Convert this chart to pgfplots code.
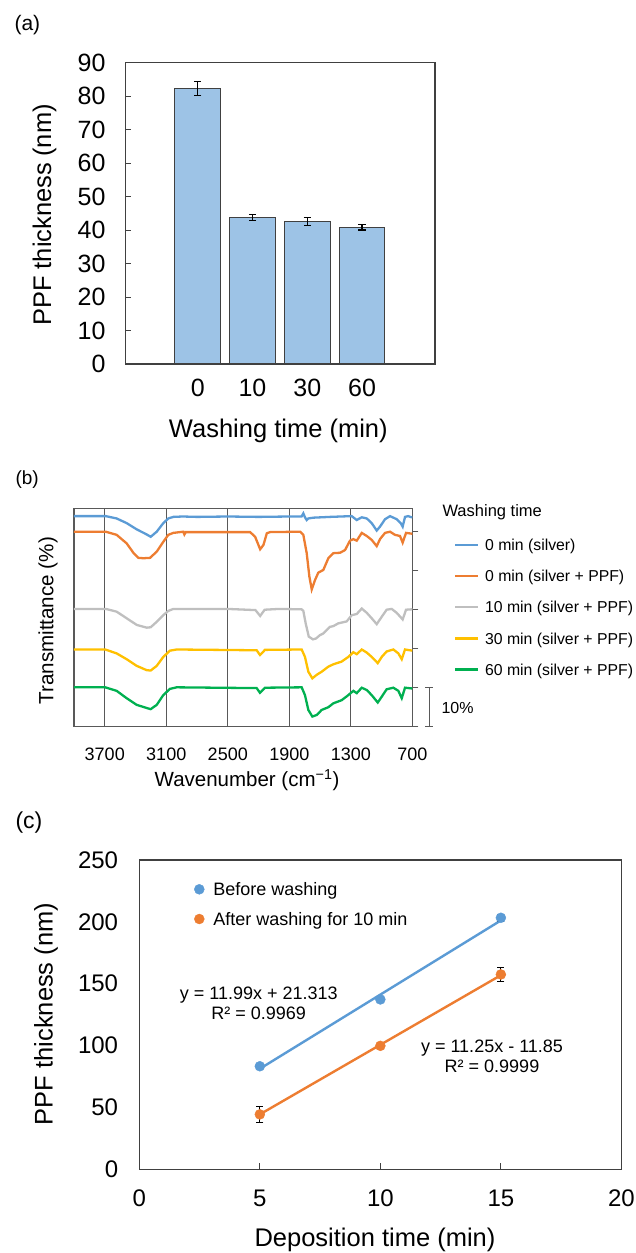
\documentclass[border=0pt]{standalone}
\usepackage{pgfplots}
\pgfplotsset{compat=1.18}
\usepackage{fontspec}
\setmainfont{Liberation Sans}
\definecolor{barblue}{HTML}{9DC3E6}
\definecolor{edge}{HTML}{404040}
\definecolor{xblue}{HTML}{5B9BD5}
\definecolor{xorange}{HTML}{ED7D31}
\definecolor{xgray}{HTML}{BFBFBF}
\definecolor{xyellow}{HTML}{FFC000}
\definecolor{xgreen}{HTML}{00B050}
\definecolor{axisgray}{HTML}{595959}
\newcommand{\fs}[1]{\fontsize{#1bp}{#1bp}\selectfont}

\pgfplotstableread{
wn v
4000 54.0
3800 54.0
3690 54.0
3584 53.4
3486 52.2
3388 50.6
3291 49.3
3252 48.7
3193 50.0
3129 52.2
3080 53.4
3031 53.8
2940 53.9
2800 53.8
2500 53.9
2200 53.8
1900 53.9
1780 53.9
1763 54.7
1745 53.6
1730 53.0
1714 53.4
1665 53.6
1503 53.8
1291 54.0
1242 53.0
1193 53.7
1144 53.4
1096 52.2
1047 50.3
1015 51.3
966 53.2
917 54.0
852 53.2
813 52.2
794 51.3
771 53.8
740 54.0
706 53.7
700 53.7
}\blue

\pgfplotstableread{
wn v
4000 50.0
3690 50.0
3584 49.2
3486 47.0
3421 44.6
3372 43.3
3323 43.2
3258 43.3
3193 44.9
3129 47.4
3080 49.2
3031 49.7
2933 50.0
2923 49.3
2910 49.9
2770 49.9
2282 49.9
2233 48.7
2184 45.5
2152 46.6
2119 49.6
2087 49.9
1794 50.0
1763 49.2
1730 44.5
1704 38.5
1681 35.2
1649 37.6
1617 39.5
1568 40.2
1519 43.2
1470 44.5
1405 44.6
1356 45.3
1308 47.7
1275 48.1
1242 47.7
1193 49.7
1144 48.9
1096 47.9
1047 46.3
1015 48.1
966 49.7
917 50.0
869 49.2
820 48.9
794 47.2
761 49.7
706 49.5
700 49.5
}\orange

\pgfplotstableread{
wn v
4000 30.2
3690 30.2
3584 29.5
3486 27.8
3388 26.1
3291 25.4
3252 25.5
3193 26.9
3129 28.6
3080 29.7
3031 30.2
2500 30.2
2230 29.9
2184 28.4
2140 30.0
2000 30.2
1780 30.1
1763 29.7
1740 26.5
1710 23.1
1670 22.4
1640 22.6
1600 23.5
1568 23.9
1503 25.6
1470 25.8
1422 26.5
1340 27.0
1291 28.6
1242 28.9
1193 30.3
1144 29.2
1096 27.8
1047 26.3
998 28.2
950 30.0
901 30.2
852 29.2
794 27.5
761 30.0
706 30.1
700 30.1
}\gray

\pgfplotstableread{
wn v
4000 19.8
3695 19.8
3584 18.8
3486 17.3
3388 15.6
3291 14.5
3252 14.4
3193 15.6
3129 17.9
3064 19.5
2998 19.8
2218 19.6
2186 18.4
2137 19.7
1779 19.8
1747 17.9
1714 14.1
1675 12.4
1633 13.3
1584 14.1
1519 15.4
1470 16.0
1389 16.7
1324 17.9
1275 19.1
1242 18.6
1193 19.8
1144 19.0
1096 17.9
1037 16.3
998 17.9
950 19.3
885 19.8
836 18.8
803 17.3
771 19.8
700 19.5
}\yellow

\pgfplotstableread{
wn v
4000 10.1
3695 10.1
3584 9.2
3486 7.3
3388 5.6
3291 4.8
3252 4.5
3193 5.6
3129 8.1
3064 9.7
2998 10.1
2218 9.9
2186 8.7
2137 10.0
1779 10.1
1747 8.1
1714 4.3
1675 2.6
1633 3.0
1584 4.3
1519 5.0
1470 6.0
1389 6.8
1324 8.1
1275 9.2
1242 8.6
1193 10.0
1144 9.4
1096 8.1
1037 6.2
998 7.7
950 9.6
885 10.0
836 9.2
803 7.3
771 10.0
700 9.8
}\green

\begin{document}
\begin{tikzpicture}
\path[use as bounding box] (0,0) rectangle (636bp,-1253bp);

% ---------------- (a)
\begin{axis}[at={(125.4bp,-364bp)}, anchor=south west, scale only axis,
  width=309.5bp, height=301.5bp,
  xmin=-1.32, xmax=4.33, ymin=0, ymax=90,
  xtick={0,1,2,3}, xticklabels={0,10,30,60}, xtick style={draw=none},
  ytick={0,10,...,90}, ytick pos=left, tick align=inside, major tick length=6bp,
  ytick style={edge, line width=1bp},
  axis line style={edge, line width=1.3bp},
  /pgf/number format/assume math mode=true,
  xticklabel style={anchor=center, inner sep=0pt, yshift=-24.3bp, font=\fs{25}},
  yticklabel style={anchor=east, inner sep=0pt, xshift=-19.7bp, font=\fs{25}},
  clip=false]
\addplot[ybar, bar width=45.8bp, fill=barblue, draw=edge, line width=1.1bp,
  error bars/.cd, y dir=both, y explicit,
  error bar style={black, line width=1.1bp},
  error mark options={black, rotate=90, mark size=3.7bp, line width=1.1bp}]
  coordinates {(0,82.2) +- (0,2.0) (1,43.7) +- (0,0.9) (2,42.5) +- (0,1.2) (3,40.8) +- (0,0.8)};
\end{axis}

% ---------------- (b)
\begin{axis}[at={(74bp,-726.7bp)}, anchor=south west, scale only axis,
  width=338.3bp, height=218.4bp,
  x dir=reverse, xmin=700, xmax=4000, ymin=0, ymax=56,
  xtick={700,1300,1900,2500,3100,3700}, xmajorgrids,
  grid style={axisgray, line width=1.1bp},
  xtick style={draw=none},
  ytick={0,10,20,30,40,50}, ytick pos=right, yticklabels={},
  tick align=outside, major tick length=6bp,
  ytick style={axisgray, line width=1.1bp},
  axis line style={axisgray, line width=1.1bp},
  /pgf/number format/assume math mode=true,
  /pgf/number format/1000 sep={},
  xticklabel style={anchor=center, inner sep=0pt, yshift=-21.3bp, font=\fs{18}},
  clip=false,
  legend style={at={(axis description cs:1.1233,0.8686)}, anchor=north west,
    draw=none, fill=none, inner sep=0pt, outer sep=0pt,
    row sep=15.7bp, column sep=5.5bp, font=\fs{15.8},
    nodes={inner sep=0pt, text height=13.5bp, text depth=2bp}},
  legend cell align=left,
  legend image code/.code={\draw[#1] (0bp,0bp) -- (23.3bp,0bp);}]
\addplot[xblue, line width=2.3bp] table[x=wn, y=v] {\blue};
\addlegendentry{0 min (silver)}
\addplot[xorange, line width=2.3bp] table[x=wn, y=v] {\orange};
\addlegendentry{0 min (silver + PPF)}
\addplot[xgray, line width=2.3bp] table[x=wn, y=v] {\gray};
\addlegendentry{10 min (silver + PPF)}
\addplot[xyellow, line width=2.3bp] table[x=wn, y=v] {\yellow};
\addlegendentry{30 min (silver + PPF)}
\addplot[xgreen, line width=2.3bp] table[x=wn, y=v] {\green};
\addlegendentry{60 min (silver + PPF)}
\draw[axisgray, line width=1.1bp] ([xshift=17bp]axis cs:700,0) -- ([xshift=17bp]axis cs:700,10);
\draw[axisgray, line width=1.1bp] ([xshift=13bp]axis cs:700,0) -- ([xshift=21bp]axis cs:700,0);
\draw[axisgray, line width=1.1bp] ([xshift=13bp]axis cs:700,10) -- ([xshift=21bp]axis cs:700,10);
\end{axis}

% ---------------- (c)
\begin{axis}[at={(139.3bp,-1169.3bp)}, anchor=south west, scale only axis,
  width=482.1bp, height=309.3bp,
  xmin=0, xmax=20, ymin=0, ymax=250,
  xtick={0,5,...,20}, ytick={0,50,...,250},
  xtick pos=bottom, tick align=inside, major tick length=6.5bp,
  xtick style={edge, line width=1.1bp}, ytick style={draw=none},
  axis line style={edge, line width=1.3bp},
  /pgf/number format/assume math mode=true,
  xticklabel style={anchor=center, inner sep=0pt, yshift=-29bp, font=\fs{24}},
  yticklabel style={anchor=east, inner sep=0pt, xshift=-21bp, font=\fs{24}},
  clip=false,
  legend style={at={(axis description cs:0.1141,0.9329)}, anchor=north west,
    draw=none, fill=none, inner sep=0pt, outer sep=0pt,
    row sep=12.6bp, column sep=9bp, font=\fs{18},
    nodes={inner sep=0pt, text height=15bp, text depth=2.1bp}},
  legend cell align=left,
  legend image code/.code={\draw[#1, only marks] plot coordinates {(0bp,0bp)};}]
\addplot[xblue, line width=2.4bp, forget plot] coordinates {(5,81.26) (15,201.16)};
\addplot[xorange, line width=2.4bp, forget plot] coordinates {(5,44.40) (15,156.90)};
\addplot[only marks, mark=*, mark size=5bp, mark options={fill=xblue, draw=xblue},
  error bars/.cd, y dir=both, y explicit,
  error bar style={black, line width=1bp},
  error mark options={black, rotate=90, mark size=3.5bp, line width=1bp}]
  coordinates {(5,83.3) +- (0,1.5) (10,137.3) +- (0,2) (15,203.3) +- (0,3)};
\addlegendentry{Before washing}
\addplot[only marks, mark=*, mark size=5bp, mark options={fill=xorange, draw=xorange},
  error bars/.cd, y dir=both, y explicit,
  error bar style={black, line width=1bp},
  error mark options={black, rotate=90, mark size=3.5bp, line width=1bp}]
  coordinates {(5,44.4) +- (0,6.2) (10,99.8) +- (0,1.5) (15,157.5) +- (0,6)};
\addlegendentry{After washing for 10 min}
\end{axis}

% ---------------- text
\node[anchor=base west, font=\fs{21}] at (11bp,-30.8bp) {(a)};
\node[anchor=base, font=\fs{25.5}] at (278.3bp,-437.7bp) {Washing time (min)};
\node[anchor=base, rotate=90, font=\fs{25.5}] at (51bp,-215bp) {PPF thickness\hspace{0.25em}(nm)};

\node[anchor=base west, font=\fs{19}] at (12bp,-484.5bp) {(b)};
\node[anchor=base, font=\fs{20.5}] at (247bp,-786.5bp) {Wavenumber (cm\textsuperscript{−1})};
\node[anchor=base, rotate=90, font=\fs{20.6}] at (53.3bp,-620.8bp) {Transmittance (\%)};
\node[anchor=base west, font=\fs{16.5}] at (439bp,-516bp) {Washing time};
\node[anchor=base west, font=\fs{16}] at (438bp,-713bp) {10\%};

\node[anchor=base west, font=\fs{23}] at (12bp,-828.5bp) {(c)};
\node[anchor=base, font=\fs{25.5}] at (375bp,-1246.5bp) {Deposition time (min)};
\node[anchor=base, rotate=90, font=\fs{25.5}] at (52.5bp,-1014bp) {PPF thickness (nm)};
\node[anchor=base, font=\fs{18}] at (258.7bp,-999bp) {y = 11.99x + 21.313};
\node[anchor=base, font=\fs{18}] at (258.7bp,-1019.7bp) {R² = 0.9969};
\node[anchor=base, font=\fs{18}] at (492bp,-1052bp) {y = 11.25x - 11.85};
\node[anchor=base, font=\fs{18}] at (492bp,-1072.4bp) {R² = 0.9999};
\end{tikzpicture}
\end{document}
